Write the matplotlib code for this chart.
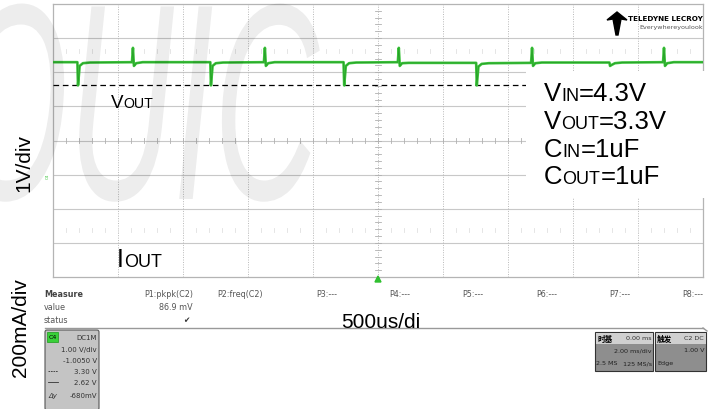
import numpy as np
import matplotlib
matplotlib.use("Agg")
import matplotlib.pyplot as plt
from matplotlib.patches import Rectangle, FancyBboxPatch, Polygon, PathPatch
from matplotlib.offsetbox import TextArea, HPacker, AnnotationBbox
from matplotlib.textpath import TextPath
from matplotlib.font_manager import FontProperties
from matplotlib.transforms import Affine2D

plt.rcParams['font.family'] = ['Liberation Sans', 'DejaVu Sans']

# scope settings
v_offset = -1.005      # V, channel offset
v_per_div = 1.0
ms_per_div = 2.0
cursor_hi = 3.30
cursor_lo = 2.62

# green trace: time (ms) and voltage (V) key points
trace_t = [-10.0,
           -9.25, -9.23, -9.18, -9.08, -8.86,
           -7.57, -7.54, -7.51, -7.44, -7.24,
           -5.16, -5.14, -5.09, -4.99, -4.77,
           -3.51, -3.48, -3.45, -3.38, -3.18,
           -1.06, -1.04, -0.99, -0.89, -0.67,
           0.61, 0.64, 0.67, 0.74, 0.94,
           3.02, 3.04, 3.09, 3.19, 3.41,
           4.71, 4.74, 4.77, 4.84, 5.04,
           7.12, 7.14, 7.19, 7.29, 7.51,
           8.77, 8.80, 8.83, 8.90, 9.10,
           10.0]
trace_v = [3.30,
           3.30, 2.62, 3.19, 3.27, 3.29,
           3.30, 3.72, 3.19, 3.27, 3.30,
           3.30, 2.62, 3.19, 3.27, 3.29,
           3.30, 3.72, 3.19, 3.27, 3.30,
           3.30, 2.62, 3.19, 3.27, 3.29,
           3.30, 3.72, 3.19, 3.27, 3.28,
           3.28, 2.62, 3.17, 3.25, 3.27,
           3.28, 3.72, 3.19, 3.27, 3.29,
           3.29, 3.19, 3.22, 3.27, 3.29,
           3.30, 3.72, 3.19, 3.27, 3.30,
           3.30]

measure_cols = ["P1:pkpk(C2)", "P2:freq(C2)", "P3:---", "P4:---",
                "P5:---", "P6:---", "P7:---", "P8:---"]
measure_x = [193, 263, 337, 410, 483, 557, 630, 703]
cond_lines = [("V", "IN", "=4.3V"), ("V", "OUT", "=3.3V"),
              ("C", "IN", "=1uF"), ("C", "OUT", "=1uF")]

fig = plt.figure(figsize=(7.28, 4.10), dpi=100)
W, H = 728, 410

def px_axes(x0, y0, x1, y1):
    return [x0 / W, 1 - y1 / H, (x1 - x0) / W, (y1 - y0) / H]

# ---- scope grid ----
ax = fig.add_axes(px_axes(53, 5, 703, 278))
ax.set_xlim(-5 * ms_per_div, 5 * ms_per_div)
ax.set_ylim(-4 * v_per_div - v_offset, 4 * v_per_div - v_offset)
ax.set_xticks([]); ax.set_yticks([])
for s in ax.spines.values():
    s.set_color('#b4b4b4'); s.set_linewidth(0.9)

yc = -v_offset
for k in range(-3, 4):
    ax.axhline(yc + k, color='#c8c8c8', lw=0.8, zorder=1)
for k in range(-4, 5):
    ax.axvline(k * ms_per_div, color='#b8b8b8', lw=0.7,
               ls=(0, (1, 1.5)), zorder=1)
# minor ticks on centre lines
for k in np.arange(-25, 26):
    x = k * 0.2 * ms_per_div
    ax.plot([x, x], [yc - 0.07, yc + 0.07], color='#b0b0b0', lw=0.6, zorder=1)
    ax.plot([x, x], [yc + 2.62 - 0.05, yc + 2.62 + 0.05], color='#e0e0e0', lw=0.6, zorder=1)
    ax.plot([x, x], [yc - 2.62 - 0.05, yc - 2.62 + 0.05], color='#e0e0e0', lw=0.6, zorder=1)
for k in np.arange(-20, 21):
    y = yc + k * 0.2
    ax.plot([-0.09, 0.09], [y, y], color='#b0b0b0', lw=0.6, zorder=1)

ax.axhline(cursor_lo, color='black', lw=0.9, ls=(0, (4.5, 3)), zorder=3)
ax.plot(trace_t, trace_v, color='#3cc43c', lw=1.9, zorder=4)
ax.plot(trace_t, trace_v, color='#1e8f1e', lw=0.6, zorder=4, alpha=0.7)

# ---- overlay in pixel coordinates ----
ov = fig.add_axes([0, 0, 1, 1], zorder=5)
ov.set_xlim(0, W); ov.set_ylim(H, 0); ov.axis('off')
ov.patch.set_alpha(0)

# faint watermark letters
wm = TextPath((0, 0), "OUIC", size=280,
              prop=FontProperties(family='Liberation Sans', style='italic'))
wm_tr = Affine2D().scale(0.52, -1.0).translate(-45, 200)
ov.add_patch(PathPatch(wm_tr.transform_path(wm), facecolor='black', alpha=0.07,
                       edgecolor='none', zorder=1))

# white box with conditions
ov.add_patch(Rectangle((526, 72), 180, 127, facecolor='white', edgecolor='none', zorder=2))

def smallcaps(x, y, parts, size, ratio=0.72):
    big, small, rest = parts
    kids = [TextArea(big, textprops=dict(fontsize=size, color='black')),
            TextArea(small, textprops=dict(fontsize=size * ratio, color='black')),
            TextArea(rest, textprops=dict(fontsize=size, color='black'))]
    box = HPacker(children=kids, align='baseline', pad=0, sep=0)
    ab = AnnotationBbox(box, (x, y), xycoords='data', box_alignment=(0, 0.5),
                        frameon=False, pad=0)
    ab.set_zorder(3)
    ov.add_artist(ab)

for i, parts in enumerate(cond_lines):
    smallcaps(544, 94 + i * 27.8, parts, 18.5, 0.7)

smallcaps(111, 103, ("V", "OUT", ""), 13.5, 0.75)
smallcaps(117, 260, ("I", "OUT", ""), 18, 0.72)

ov.text(24, 163, "1V/div", rotation=90, fontsize=15, ha='center', va='center')
ov.text(21, 328, "200mA/div", rotation=90, fontsize=15, ha='center', va='center')
ov.text(381, 323, "500us/di", fontsize=15, ha='center', va='center')

narrow = ['Liberation Sans Narrow', 'DejaVu Sans']

# logo
ov.add_patch(Polygon([(607, 21), (617, 13), (627, 21), (621, 20), (618, 36),
                      (616, 36), (613, 20)], closed=True, color='black', zorder=3))
ov.text(703, 19, "TELEDYNE LECROY", fontsize=5.2, fontweight='bold',
        family=narrow, va='center', ha='right')
ov.text(703, 28, "Everywhereyoulook", fontsize=4.6, color='#555555',
        family=narrow, va='center', ha='right')

# channel marker and trigger marker
ov.text(48, 176, "C4", rotation=90, fontsize=3.0, color='#30c030', ha='center', va='center')
ov.add_patch(Polygon([(375, 283), (381, 283), (378, 277)], closed=True, color='#30c030'))

# measure table
ov.text(44, 295, "Measure", fontsize=5.8, fontweight='bold', color='#444444',
        family=narrow, va='center')
ov.text(44, 308, "value", fontsize=5.8, color='#555555', family=narrow, va='center')
ov.text(44, 321, "status", fontsize=5.8, color='#555555', family=narrow, va='center')
for lab, x in zip(measure_cols, measure_x):
    ov.text(x, 295, lab, fontsize=5.8, color='#555555', family=narrow,
            va='center', ha='right')
ov.text(193, 308, "86.9 mV", fontsize=5.8, color='#555555', family=narrow,
        va='center', ha='right')
ov.text(189, 321, "\u2714", fontsize=5.5, color='#333333', va='center', ha='right',
        family=['DejaVu Sans'])
ov.plot([45, 703], [329, 329], color='#999999', lw=1.0)
ov.plot([703, 707], [329, 332], color='#999999', lw=1.0)

# channel box
ov.add_patch(FancyBboxPatch((45, 331), 54, 80, boxstyle='round,pad=0,rounding_size=2',
                            facecolor='#c4c4c4', edgecolor='#555555', lw=0.8))
ov.add_patch(Rectangle((47, 333), 11, 10, facecolor='#39d039', edgecolor='#1a9a1a', lw=0.5))
ov.text(52.5, 338, "C4", fontsize=4.5, color='black', ha='center', va='center', family=narrow)
ch_rows = [("DC1M", 338), ("1.00 V/div", 350), ("-1.0050 V", 361),
           ("3.30 V", 372), ("2.62 V", 383), ("-680mV", 396)]
for t, y in ch_rows:
    ov.text(97, y, t, fontsize=5, color='#333333', ha='right', va='center', family=narrow)
ov.plot([48, 58], [372, 372], color='#333333', lw=0.6, ls=(0, (2, 1)))
ov.plot([48, 58], [383, 383], color='#333333', lw=0.6)
ov.text(48, 396, "\u0394y", fontsize=5, color='#333333', ha='left', va='center',
        style='italic', family=narrow)

# timebase / trigger boxes
cjk = ['Noto Sans CJK SC', 'DejaVu Sans']
for x0, w in [(595, 58), (655, 51)]:
    ov.add_patch(Rectangle((x0, 333), w, 39, facecolor='#8e8e8e', edgecolor='#333333', lw=0.8))
    ov.add_patch(Rectangle((x0 + 0.5, 333.5), w - 1, 11, facecolor='#d0d0d0', edgecolor='none'))
ov.text(597, 339, "时基", fontsize=5.5, fontweight='bold', family=cjk, va='center')
ov.text(652, 339, "0.00 ms", fontsize=4.6, family=narrow, ha='right', va='center', color='#333333')
ov.text(652, 351, "2.00 ms/div", fontsize=4.6, family=narrow, ha='right', va='center', color='#222222')
ov.text(596, 364, "2.5 MS", fontsize=4.6, family=narrow, ha='left', va='center', color='#222222')
ov.text(652, 364, "125 MS/s", fontsize=4.6, family=narrow, ha='right', va='center', color='#222222')
ov.text(657, 339, "触发", fontsize=5.5, fontweight='bold', family=cjk, va='center')
ov.text(704, 339, "C2 DC", fontsize=4.6, family=narrow, ha='right', va='center', color='#333333')
ov.text(704, 351, "1.00 V", fontsize=4.6, family=narrow, ha='right', va='center', color='#222222')
ov.text(657, 364, "Edge", fontsize=4.6, family=narrow, ha='left', va='center', color='#222222')

fig.savefig("out.png", dpi=100)
